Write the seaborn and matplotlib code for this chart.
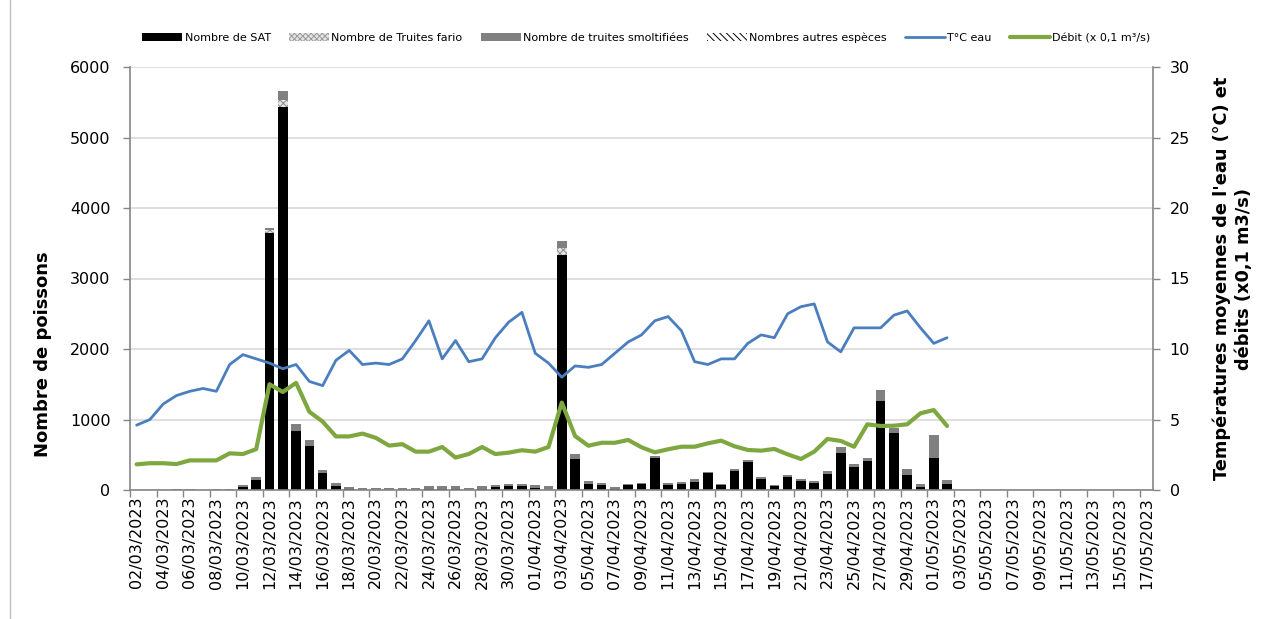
import numpy as np
import pandas as pd
import matplotlib
matplotlib.use("Agg")
import matplotlib.pyplot as plt
import seaborn as sns
from matplotlib.patches import Patch
from matplotlib.lines import Line2D

# ---------------- data ----------------
dates = pd.date_range("2023-03-02", "2023-05-17", freq="D").strftime("%d/%m/%Y").tolist()

sat = [0, 0, 0, 0, 0, 0, 0, 0, 38, 142, 3640, 5427, 841, 628, 237, 61,
       10, 5, 5, 0, 5, 5, 10, 15, 10, 0, 15, 45, 60, 50, 35, 5,
       3332, 435, 85, 70, 15, 65, 80, 450, 70, 85, 118, 236, 66, 265,
       395, 160, 50, 190, 128, 95, 227, 529, 322, 411, 1262, 813, 213, 47,
       458, 85]
fario = [0, 0, 0, 0, 0, 0, 0, 0, 0, 0, 55, 100, 0, 0, 0, 0,
         0, 0, 0, 0, 0, 0, 0, 0, 0, 0, 0, 0, 0, 0, 0, 0,
         95, 0, 0, 0, 0, 0, 0, 0, 0, 0, 0, 0, 0, 0,
         0, 0, 0, 0, 0, 0, 0, 0, 0, 0, 0, 0, 0, 0,
         0, 0]
smolt = [3, 0, 5, 8, 10, 3, 10, 12, 33, 47, 15, 133, 95, 80, 47, 43,
         30, 30, 30, 25, 30, 30, 40, 45, 40, 25, 40, 30, 30, 30, 30, 45,
         108, 70, 40, 30, 30, 25, 20, 30, 30, 28, 33, 24, 23, 35,
         30, 25, 22, 27, 30, 33, 42, 85, 47, 43, 152, 62, 80, 33,
         322, 57]
autres = [0] * 62
temp = [4.6, 5.0, 6.1, 6.7, 7.0, 7.2, 7.0, 8.9, 9.6, 9.3, 9.0, 8.6, 8.9, 7.7, 7.4, 9.2,
        9.9, 8.9, 9.0, 8.9, 9.3, 10.6, 12.0, 9.3, 10.6, 9.1, 9.3, 10.8, 11.9, 12.6, 9.7, 9.0,
        8.0, 8.8, 8.7, 8.9, 9.7, 10.5, 11.0, 12.0, 12.3, 11.3, 9.1, 8.9, 9.3, 9.3,
        10.4, 11.0, 10.8, 12.5, 13.0, 13.2, 10.5, 9.8, 11.5, 11.5, 11.5, 12.4, 12.7, 11.5,
        10.4, 10.8]
debit = [1.82, 1.9, 1.9, 1.84, 2.1, 2.1, 2.1, 2.6, 2.55, 2.9, 7.5, 6.95, 7.6, 5.55, 4.85, 3.8,
         3.8, 4.0, 3.7, 3.15, 3.25, 2.72, 2.72, 3.05, 2.3, 2.55, 3.05, 2.55, 2.65, 2.82, 2.72, 3.05,
         6.2, 3.83, 3.14, 3.35, 3.35, 3.55, 3.03, 2.67, 2.89, 3.07, 3.07, 3.31, 3.5, 3.1,
         2.84, 2.79, 2.91, 2.53, 2.2, 2.72, 3.62, 3.48, 3.07, 4.66, 4.54, 4.56, 4.66, 5.44,
         5.67, 4.54]

legend_labels = ["Nombre de SAT", "Nombre de Truites fario", "Nombre de truites smoltifiées",
                 "Nombres autres espèces", "T°C eau", "Débit (x 0,1 m³/s)"]

# ---------------- style ----------------
sns.set_theme(style="white")
plt.rcParams['font.family'] = ['DejaVu Sans']
plt.rcParams['hatch.linewidth'] = 0.7

n = len(dates)
def pad(a):
    return list(a) + [np.nan] * (n - len(a))

df = pd.DataFrame({"date": dates, "sat": pad(sat), "fario": pad(fario),
                   "smolt": pad(smolt), "autres": pad(autres)})
df["c_fario"] = df["sat"] + df["fario"]
df["c_smolt"] = df["c_fario"] + df["smolt"]
df["c_autres"] = df["c_smolt"] + df["autres"]

W, H = 1261, 619
fig = plt.figure(figsize=(W / 100, H / 100), dpi=100)
ax = fig.add_axes([130 / W, 1 - 490 / H, 1023 / W, 423 / H])

gray = "#868686"
bw = 0.72
common = dict(data=df, x="date", order=dates, errorbar=None, ax=ax, width=bw,
              saturation=1, linewidth=0)
sns.barplot(y="c_autres", color="white", hatch="\\\\\\\\", edgecolor="black", **common)
sns.barplot(y="c_smolt", color="#808080", edgecolor="#808080", **common)
sns.barplot(y="c_fario", color="#e6e6e6", hatch="xxxxx", edgecolor="#8c8c8c", **common)
sns.barplot(y="sat", color="black", edgecolor="black", **common)

ax.set_ylim(0, 6000)
ax.set_yticks(np.arange(0, 6001, 1000))
ax.set_xlim(-0.5, n - 0.5)
ax.set_xticks(np.arange(0, n, 2))
ax.set_xticklabels(dates[::2], rotation=90, fontsize=11.5)
ax.set_xticks(np.arange(-0.5, n, 2), minor=True)
ax.tick_params(axis="x", which="major", length=0, pad=5, labelcolor="black")
ax.tick_params(axis="x", which="minor", length=5, width=1, color=gray, bottom=True, direction="out")
ax.tick_params(axis="y", left=True, length=5, width=1, color=gray, direction="out",
               labelsize=11.5, pad=9, labelcolor="black")
ax.yaxis.grid(True, color="#d9d9d9", linewidth=1.2)
ax.xaxis.grid(False)
ax.set_axisbelow(True)
ax.set_xlabel("")
ax.set_ylabel("Nombre de poissons", fontsize=13, fontweight="bold", color="black")
ax.yaxis.set_label_coords(-0.076, 0.32)
for s in ["top", "right"]:
    ax.spines[s].set_visible(False)
for s in ["left", "bottom"]:
    ax.spines[s].set_color(gray)
    ax.spines[s].set_linewidth(1.2)

ax2 = ax.twinx()
xi = np.arange(len(temp))
blue = "#4a7ebf"
green = "#7ea83f"
sns.lineplot(x=xi, y=temp, ax=ax2, color=blue, linewidth=2.0)
sns.lineplot(x=xi, y=debit, ax=ax2, color=green, linewidth=3.0)
ax2.set_ylim(0, 30)
ax2.set_yticks(np.arange(0, 31, 5))
ax2.set_xlim(-0.5, n - 0.5)
ax2.tick_params(axis="y", right=True, length=5, width=1, color=gray, direction="out",
                labelsize=11.5, pad=7, labelcolor="black")
ax2.set_ylabel("Températures moyennes de l'eau (°C) et\ndébits (x0,1 m3/s)",
               fontsize=12.8, fontweight="bold", linespacing=1.3, color="black")
ax2.yaxis.set_label_coords(1.0577, 0.5)
for s in ["top", "left", "bottom"]:
    ax2.spines[s].set_visible(False)
ax2.spines["right"].set_color(gray)
ax2.spines["right"].set_linewidth(1.2)
ax2.grid(False)

# legend
handles = [
    Patch(facecolor="black", edgecolor="black", linewidth=0),
    Patch(facecolor="#e6e6e6", edgecolor="#9a9a9a", hatch="xxxxxx", linewidth=0),
    Patch(facecolor="#808080", edgecolor="#808080", linewidth=0),
    Patch(facecolor="white", edgecolor="black", hatch="\\\\\\\\\\", linewidth=0),
    Line2D([], [], color=blue, linewidth=2.0),
    Line2D([], [], color=green, linewidth=3.0),
]
leg = fig.legend(handles, legend_labels, loc="center",
                 bbox_to_anchor=(138 / W, 1 - 45 / H, (1155 - 138) / W, 14 / H),
                 mode="expand", ncol=6, frameon=False,
                 prop={"family": ["DejaVu Sans Condensed", "Liberation Sans Narrow", "DejaVu Sans"],
                       "size": 8},
                 handlelength=3.6, handleheight=0.75, handletextpad=0.2, borderaxespad=0)
for t in leg.get_texts():
    t.set_color("black")

fig.add_artist(Line2D([10 / W, 10 / W], [0, 1], color="#bfbfbf", linewidth=1))

fig.savefig("out.png", dpi=100)
